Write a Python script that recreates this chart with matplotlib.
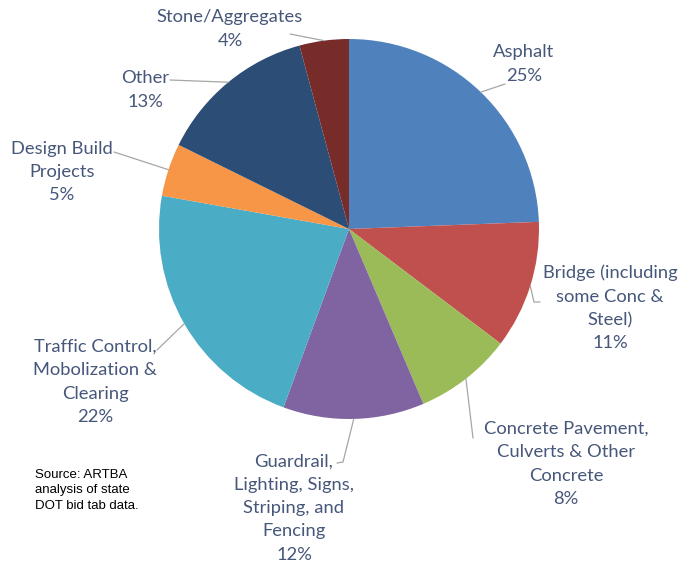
import matplotlib
matplotlib.use("Agg")
import matplotlib.pyplot as plt
import numpy as np

categories = ["Asphalt",
              "Bridge (including\nsome Conc &\nSteel)",
              "Concrete Pavement,\nCulverts & Other\nConcrete",
              "Guardrail,\nLighting, Signs,\nStriping, and\nFencing",
              "Traffic Control,\nMobolization &\nClearing",
              "Design Build\nProjects",
              "Other",
              "Stone/Aggregates"]
shares = [24.4, 10.9, 8.3, 12.0, 22.2, 4.5, 13.5, 4.2]
pct_labels = ["25%", "11%", "8%", "12%", "22%", "5%", "13%", "4%"]
colors = ["#4F81BD", "#C0504D", "#9BBB59", "#8064A2", "#4BACC6",
          "#F79646", "#2C4D75", "#772C2A"]
source_text = "Source: ARTBA\nanalysis of state\nDOT bid tab data."

W, H = 691, 564
fig = plt.figure(figsize=(W / 100, H / 100), dpi=100)
ax = fig.add_axes([0, 0, 1, 1])

cx, cy, R = 349, H - 229, 190
wedges, _ = ax.pie(shares, colors=colors, startangle=90, counterclock=False,
                   center=(cx, cy), radius=R, frame=True,
                   wedgeprops=dict(linewidth=0))
ax.set_xlim(0, W)
ax.set_ylim(0, H)
ax.set_aspect('equal')
ax.axis('off')

# label layout in pixel coords (x center, y center of block, leader path)
layout = [
    dict(x=524, y=64, path=[(505, 84)]),
    dict(x=610, y=308, path=[(534, 302), (540, 302)]),
    dict(x=566, y=464, path=[(473, 438)]),
    dict(x=294, y=508, path=[(343, 462), (337, 463)]),
    dict(x=95, y=382, path=[(157, 350)]),
    dict(x=62, y=172, path=[(114, 152)]),
    dict(x=145, y=90, path=[(170, 80)]),
    dict(x=230, y=29, path=[(290, 34)]),
]

txt_color = "#46577A"
for w, name, pct, lay in zip(wedges, categories, pct_labels, layout):
    mid = np.deg2rad((w.theta1 + w.theta2) / 2)
    sx = cx + R * np.cos(mid)
    sy = cy + R * np.sin(mid)
    xs = [sx] + [p[0] for p in lay["path"]]
    ys = [sy] + [H - p[1] for p in lay["path"]]
    ax.plot(xs, ys, color="#A6A6A6", lw=0.9, solid_capstyle="round")
    ax.text(lay["x"], H - lay["y"], name + "\n" + pct, ha="center", va="center",
            fontsize=13.2, family="Lato", color=txt_color, linespacing=1.56)

ax.text(35, H - 469, source_text, ha="left", va="top", fontsize=9.5,
        family="Liberation Sans", color="black", linespacing=1.38)

fig.savefig("out.png", dpi=100)
